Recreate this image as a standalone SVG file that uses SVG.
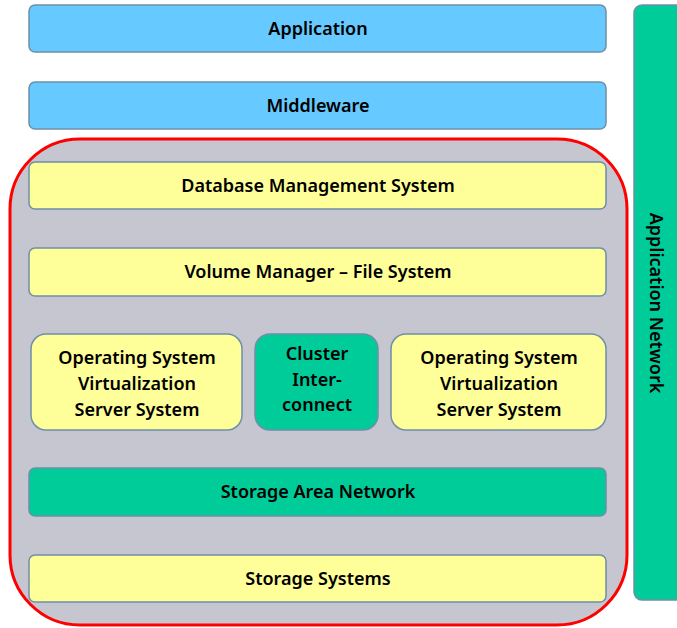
<svg xmlns="http://www.w3.org/2000/svg" width="677" height="628" viewBox="0 0 677 628">
  <style>
    .box { stroke: #6f8fa8; stroke-width: 1.5; }
    .blue { fill: #66c9ff; }
    .yellow { fill: #ffff99; }
    .green { fill: #00cc99; }
    .lbl { font-family: "Noto Sans", "DejaVu Sans", sans-serif; font-size: 18px; font-weight: 600; fill: #000; text-anchor: middle; dominant-baseline: central; }
  </style>
  <rect width="677" height="628" fill="#ffffff"/>

  <!-- cluster enclosure -->
  <g id="cluster-enclosure">
    <rect x="10" y="139" width="617" height="486" rx="70" ry="70" fill="#c6c6d0" stroke="#ff0000" stroke-width="3"/>
  </g>

  <g id="connectors"></g>

  <g id="application">
    <rect class="box blue" x="29" y="5" width="577" height="47" rx="6"/>
    <text class="lbl" x="318" y="28">Application</text>
  </g>
  <g id="middleware">
    <rect class="box blue" x="29" y="82" width="577" height="47" rx="6"/>
    <text class="lbl" x="318" y="105">Middleware</text>
  </g>
  <g id="dbms">
    <rect class="box yellow" x="29" y="162" width="577" height="47" rx="6"/>
    <text class="lbl" x="318" y="185">Database Management System</text>
  </g>
  <g id="volume-manager">
    <rect class="box yellow" x="29" y="248" width="577" height="48" rx="6"/>
    <text class="lbl" x="318" y="271">Volume Manager – File System</text>
  </g>
  <g id="os-left">
    <rect class="box yellow" x="31" y="334" width="211" height="96" rx="15"/>
    <text class="lbl" x="137" y="357">Operating System</text>
    <text class="lbl" x="137" y="383">Virtualization</text>
    <text class="lbl" x="137" y="409">Server System</text>
  </g>
  <g id="cluster-interconnect">
    <rect class="box green" x="255" y="334" width="123" height="96" rx="15"/>
    <text class="lbl" x="317" y="353">Cluster</text>
    <text class="lbl" x="317" y="379">Inter-</text>
    <text class="lbl" x="317" y="404">connect</text>
  </g>
  <g id="os-right">
    <rect class="box yellow" x="391" y="334" width="215" height="96" rx="15"/>
    <text class="lbl" x="499" y="357">Operating System</text>
    <text class="lbl" x="499" y="383">Virtualization</text>
    <text class="lbl" x="499" y="409">Server System</text>
  </g>
  <g id="san">
    <rect class="box green" x="29" y="468" width="577" height="48" rx="6"/>
    <text class="lbl" x="318" y="491">Storage Area Network</text>
  </g>
  <g id="storage-systems">
    <rect class="box yellow" x="29" y="555" width="577" height="47" rx="6"/>
    <text class="lbl" x="318" y="578">Storage Systems</text>
  </g>
  <g id="application-network">
    <rect class="box green" x="634" y="5" width="52" height="595" rx="8"/>
    <text class="lbl" x="0" y="0" transform="translate(657 303) rotate(90)">Application Network</text>
  </g>
</svg>
